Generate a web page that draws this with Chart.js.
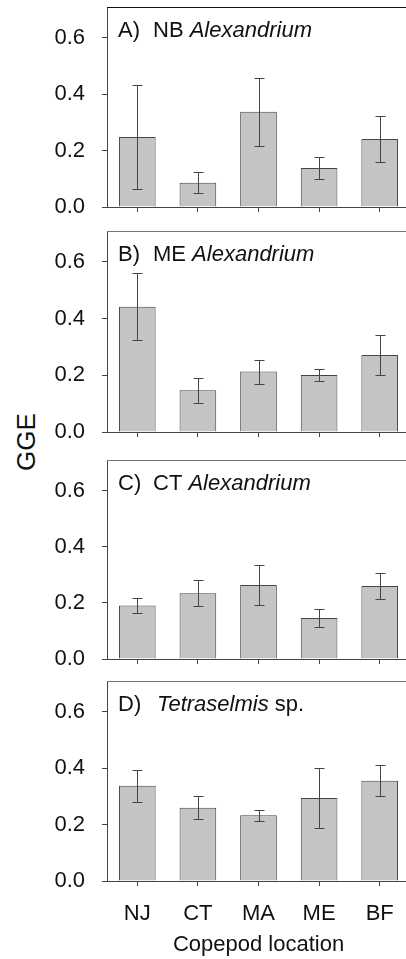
<!DOCTYPE html>
<html>
<head>
<meta charset="utf-8">
<script src="https://cdn.jsdelivr.net/npm/chart.js@4.4.0/dist/chart.umd.min.js"></script>
<style>
  html, body { margin: 0; padding: 0; width: 406px; height: 959px; overflow: hidden; background: #fff; }
  .panel { position: absolute; left: 0; width: 410px; }
  #yTitle {
    position: absolute; left: 26px; top: 442px;
    transform: translate(-50%, -50%) rotate(-90deg);
    font: 26px "Liberation Sans", Arial, sans-serif; color: #111; white-space: nowrap;
  }
</style>
</head>
<body>
<div id="yTitle">GGE</div>

<script>
// ---- data ----
const locations = ["NJ", "CT", "MA", "ME", "BF"];
const yTicks = [0.0, 0.2, 0.4, 0.6];

const ggeNB = [0.248, 0.086, 0.338, 0.138, 0.241];
const errNB = [0.184, 0.038, 0.120, 0.038, 0.082];
const ggeME = [0.442, 0.147, 0.213, 0.201, 0.272];
const errME = [0.118, 0.044, 0.042, 0.022, 0.071];
const ggeCT = [0.191, 0.234, 0.264, 0.146, 0.260];
const errCT = [0.027, 0.046, 0.070, 0.031, 0.048];
const ggeTet = [0.338, 0.260, 0.233, 0.294, 0.355];
const errTet = [0.057, 0.040, 0.020, 0.107, 0.055];

const panelTags = ["A)", "B)", "C)", "D)"];
const panelSites = ["NB ", "ME ", "CT ", ""];
const panelSpecies = ["Alexandrium", "Alexandrium", "Alexandrium", "Tetraselmis"];
const panelSuffix = ["", "", "", " sp."];

const panelMeans = [ggeNB, ggeME, ggeCT, ggeTet];
const panelErrs = [errNB, errME, errCT, errTet];

// ---- layout ----
const panelTops = [7, 231, 460, 681];
const panelHeights = [200, 201, 199, 200];
const FONT = '"Liberation Sans", Arial, sans-serif';
const AXIS = "#444";

// error bars, top frame line and panel title
const panelExtras = {
    id: "panelExtras",
    afterDatasetsDraw(chart, args, opts) {
        const { ctx, chartArea } = chart;
        const p = opts.panel;
        const yScale = chart.scales.y;
        const bars = chart.getDatasetMeta(0).data;

        ctx.save();
        ctx.strokeStyle = "#444";
        ctx.lineWidth = 1;
        bars.forEach((bar, i) => {
            const m = panelMeans[p][i], e = panelErrs[p][i];
            const yHi = Math.round(yScale.getPixelForValue(m + e)) + 0.5;
            const yLo = Math.round(yScale.getPixelForValue(m - e)) + 0.5;
            const x = Math.round(bar.x) + 0.5;
            ctx.beginPath();
            ctx.moveTo(x, yHi); ctx.lineTo(x, yLo);
            ctx.moveTo(x - 5, yHi); ctx.lineTo(x + 5, yHi);
            ctx.moveTo(x - 5, yLo); ctx.lineTo(x + 5, yLo);
            ctx.stroke();
        });

        // top line of the panel box
        ctx.strokeStyle = p === 0 ? "#111" : "#777";
        ctx.beginPath();
        ctx.moveTo(chartArea.left, chartArea.top + 0.5);
        ctx.lineTo(chartArea.right, chartArea.top + 0.5);
        ctx.stroke();

        // title with italic species name
        ctx.fillStyle = "#111";
        ctx.textBaseline = "alphabetic";
        const base = chartArea.top + 30;
        ctx.font = "22px " + FONT;
        ctx.fillText(panelTags[p], chartArea.left + 11, base);
        let x = chartArea.left + 46;
        if (panelSites[p]) {
            ctx.fillText(panelSites[p], x, base);
            x += ctx.measureText(panelSites[p]).width;
        } else {
            x += 4;
        }
        ctx.font = "italic 22px " + FONT;
        ctx.fillText(panelSpecies[p], x, base);
        x += ctx.measureText(panelSpecies[p]).width;
        if (panelSuffix[p]) {
            ctx.font = "22px " + FONT;
            ctx.fillText(panelSuffix[p], x, base);
        }
        ctx.restore();
    }
};

function makePanel(p) {
    const isLast = p === panelTops.length - 1;
    const xHeight = isLast ? 959 - (panelTops[p] + panelHeights[p]) : 8;
    const padTop = 3;

    const box = document.createElement("div");
    box.className = "panel";
    box.style.top = (panelTops[p] - padTop) + "px";
    box.style.height = (padTop + panelHeights[p] + xHeight) + "px";
    const canvas = document.createElement("canvas");
    box.appendChild(canvas);
    document.body.appendChild(box);

    new Chart(canvas, {
        type: "bar",
        data: {
            labels: locations,
            datasets: [{
                data: panelMeans[p],
                backgroundColor: "#c4c4c4",
                borderColor: "#444",
                borderWidth: 1,
                barPercentage: 0.605,
                categoryPercentage: 1.0
            }]
        },
        options: {
            responsive: true,
            maintainAspectRatio: false,
            animation: false,
            layout: { padding: { top: padTop, left: 0, right: 0, bottom: 0 } },
            plugins: {
                legend: { display: false },
                tooltip: { enabled: false },
                panelExtras: { panel: p }
            },
            scales: {
                x: {
                    grid: {
                        offset: false,
                        drawOnChartArea: false,
                        tickLength: 5,
                        color: AXIS
                    },
                    border: { display: true, color: AXIS, width: 1 },
                    ticks: {
                        display: isLast,
                        padding: 15,
                        color: "#111",
                        font: { family: FONT, size: 22 }
                    },
                    title: {
                        display: isLast,
                        text: "Copepod location",
                        color: "#111",
                        font: { family: FONT, size: 22 },
                        padding: { top: 0, bottom: 1 }
                    },
                    afterFit(scale) {
                        scale.height = xHeight;
                        scale.paddingLeft = 0;
                        scale.paddingRight = 0;
                    }
                },
                y: {
                    min: 0,
                    max: 0.709,
                    afterBuildTicks(scale) {
                        scale.ticks = yTicks.map(v => ({ value: v }));
                    },
                    grid: {
                        drawOnChartArea: false,
                        tickLength: 5,
                        color: AXIS
                    },
                    border: { display: true, color: AXIS, width: 1 },
                    ticks: {
                        padding: 17,
                        color: "#111",
                        font: { family: FONT, size: 22 },
                        callback: v => v.toFixed(1)
                    },
                    afterFit(scale) {
                        scale.width = 107;
                        scale.paddingTop = 0;
                        scale.paddingBottom = 0;
                    }
                }
            }
        },
        plugins: [panelExtras]
    });
}

for (let p = 0; p < panelTops.length; p++) makePanel(p);
</script>
</body>
</html>
